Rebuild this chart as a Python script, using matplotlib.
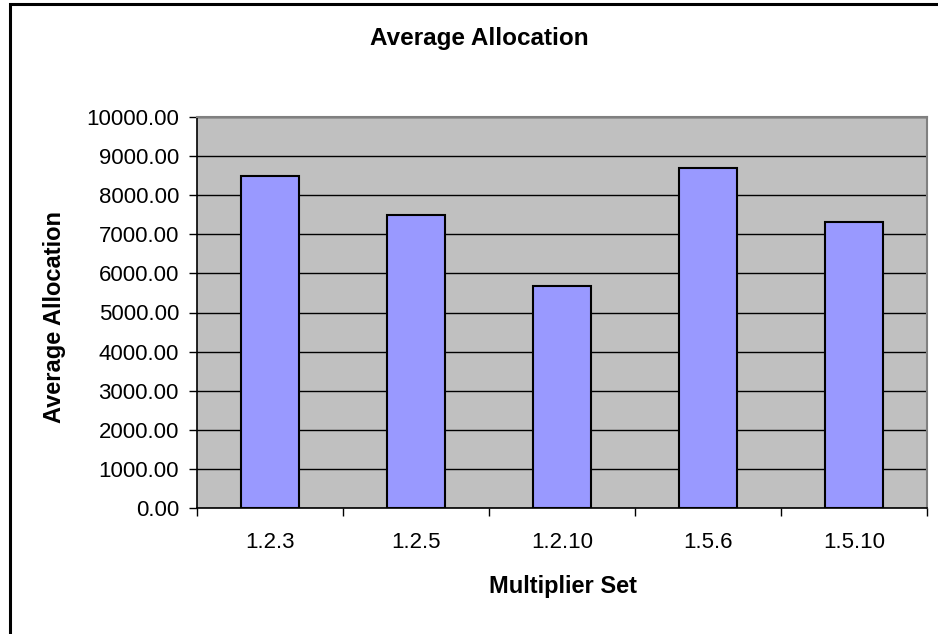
import matplotlib
matplotlib.use('Agg')
import matplotlib.pyplot as plt
from matplotlib.patches import Rectangle
import numpy as np

# Data
categories = ['1.2.3', '1.2.5', '1.2.10', '1.5.6', '1.5.10']
allocation = [8480, 7490, 5680, 8690, 7320]
y_ticks = [0, 1000, 2000, 3000, 4000, 5000, 6000, 7000, 8000, 9000, 10000]

plt.rcParams['font.family'] = ['Liberation Sans', 'DejaVu Sans']

W, H = 938, 634
fig = plt.figure(figsize=(W / 100, H / 100), dpi=100)

# Chart-area border (left and top edges visible)
fig.patches.append(Rectangle((10 / W, -0.05), 1.2, 1 - 4 / H + 0.05,
                             transform=fig.transFigure, fill=False,
                             edgecolor='black', linewidth=2.2, zorder=0))

ax = fig.add_axes([197 / W, 1 - 508 / H, (927 - 197) / W, (508 - 117) / H])
ax.set_facecolor('#c0c0c0')

x = np.arange(len(categories))
ax.bar(x, allocation, width=0.4, color='#9999ff', edgecolor='black',
       linewidth=1.5, zorder=3)

ax.set_ylim(0, 10000)
ax.set_xlim(-0.5, len(categories) - 0.5)
ax.set_yticks(y_ticks)
ax.set_yticklabels([f'{v:.2f}' for v in y_ticks])
ax.yaxis.grid(True, color='black', linewidth=1.0, zorder=1)
ax.set_axisbelow(True)

# Category ticks between bars, labels centred under them
ax.set_xticks(np.arange(-0.5, len(categories), 1.0))
ax.set_xticklabels([])
ax.set_xticks(x, minor=True)
ax.set_xticklabels(categories, minor=True)
ax.tick_params(axis='x', which='minor', length=0, pad=17, labelsize=16)
ax.tick_params(axis='x', which='major', length=6, width=1, color='black')
ax.tick_params(axis='y', length=6, width=1, pad=7, labelsize=16)

for s in ['top', 'right']:
    ax.spines[s].set_color('#808080')
    ax.spines[s].set_linewidth(1.5)
for s in ['left', 'bottom']:
    ax.spines[s].set_color('black')
    ax.spines[s].set_linewidth(1.2)

fig.text(479 / W, 1 - 38 / H, 'Average Allocation',
         ha='center', va='center', fontsize=17.5, fontweight='bold')
fig.text(563 / W, 1 - 587 / H, 'Multiplier Set',
         ha='center', va='center', fontsize=17, fontweight='bold')
fig.text(54 / W, 1 - 317 / H, 'Average Allocation', rotation=90,
         ha='center', va='center', fontsize=17, fontweight='bold')

fig.savefig('out.png', dpi=100, facecolor='white')
plt.close(fig)
